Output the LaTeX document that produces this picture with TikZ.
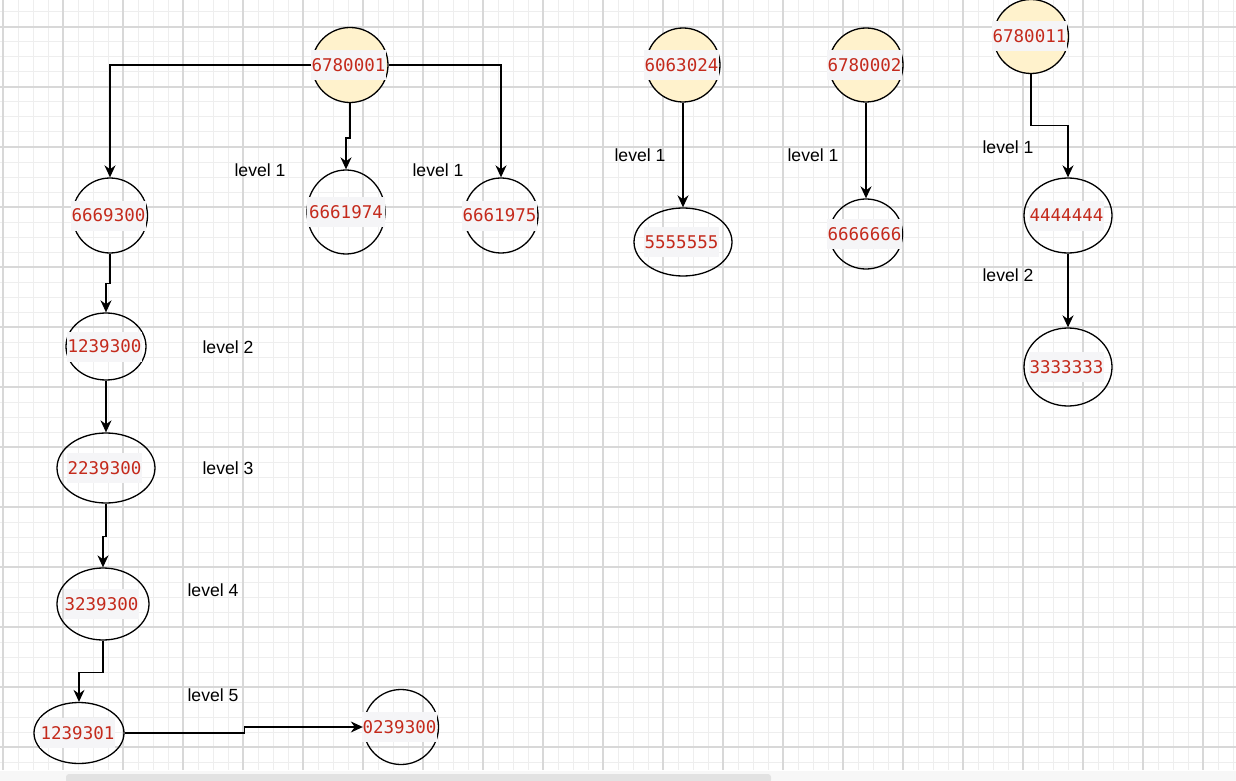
\documentclass[tikz,border=0pt]{standalone}
\usepackage{fontspec}
\setmainfont{Liberation Sans}
\newfontfamily\codefont{DejaVu Sans Mono}
\usetikzlibrary{shapes.geometric,arrows.meta}
\definecolor{codered}{RGB}{196,42,28}
\definecolor{hlgray}{RGB}{245,245,247}
\definecolor{nodeyellow}{RGB}{255,242,204}
\definecolor{gridmajor}{RGB}{216,216,216}
\definecolor{gridminor}{RGB}{238,238,238}
\definecolor{scrollgray}{RGB}{226,226,226}
\tikzset{
 bubble/.style={ellipse, draw=black, line width=1.3pt, inner sep=0pt},
 rootbubble/.style={bubble, fill=nodeyellow},
 codetext/.style={fill=hlgray, text=codered, font=\codefont\fontsize{17.5}{20}\selectfont, inner xsep=0.5pt, inner ysep=0pt, minimum height=30pt, xshift=-1.5pt},
 lvl/.style={font=\fontsize{17.6}{20}\selectfont, inner sep=0pt},
 link/.style={line width=1.4pt, -{Stealth[length=12pt,width=11pt]}},
 minorline/.style={draw=gridminor, line width=1pt},
 majorline/.style={draw=gridmajor, line width=1.4pt},
}
\begin{document}
\begin{tikzpicture}[x=1pt,y=-1pt]
\useasboundingbox (0,0) rectangle (1236,781);
\fill[white] (0,0) rectangle (1236,781);
% grid
\foreach \x in {3,18,...,1236} \draw[minorline] (\x,0) -- (\x,770);
\foreach \y in {12,27,...,770} \draw[minorline] (0,\y) -- (1236,\y);
\foreach \x in {3,63,...,1236} \draw[majorline] (\x,0) -- (\x,770);
\foreach \y in {27,87,...,770} \draw[majorline] (0,\y) -- (1236,\y);
\fill[white!97!black] (0,771) rectangle (1236,781);
\fill[scrollgray, rounded corners=3pt] (66,774) rectangle (771,783);

% root nodes
\node[rootbubble, minimum width=76pt, minimum height=75pt] (a) at (350,65) {};
\node[rootbubble, minimum width=74pt, minimum height=74pt] (j) at (683,65) {};
\node[rootbubble, minimum width=74pt, minimum height=74pt] (l) at (866,65) {};
\node[rootbubble, minimum width=75pt, minimum height=74pt] (n) at (1031,36.5) {};
% child nodes
\node[bubble, minimum width=75pt, minimum height=75pt] (b) at (110,215.5) {};
\node[bubble, minimum width=78pt, minimum height=84pt] (c) at (346,212) {};
\node[bubble, minimum width=74pt, minimum height=75pt] (d) at (501,215.5) {};
\node[bubble, minimum width=98pt, minimum height=68pt] (k) at (683,242) {};
\node[bubble, minimum width=73pt, minimum height=70pt] (m) at (866,234) {};
\node[bubble, minimum width=88pt, minimum height=75pt] (o) at (1068,215.5) {};
\node[bubble, minimum width=88pt, minimum height=78pt] (p) at (1068,367) {};
\node[bubble, minimum width=80pt, minimum height=67pt] (e) at (106,346.5) {};
\node[bubble, minimum width=98pt, minimum height=70pt] (f) at (106,468) {};
\node[bubble, minimum width=92pt, minimum height=72pt] (g) at (103,604) {};
\node[bubble, minimum width=90pt, minimum height=61pt] (h) at (79,733) {};
\node[bubble, minimum width=75pt, minimum height=75pt] (i) at (401,727) {};

% texts
\node[codetext] (ta) at (a.center) {6780001};
\node[codetext] (tj) at (j.center) {6063024};
\node[codetext] (tl) at (l.center) {6780002};
\node[codetext] (tn) at (n.center) {6780011};
\node[codetext] (tb) at (b.center) {6669300};
\node[codetext, xshift=1.5pt, inner xsep=2pt] (tc) at (c.center) {6661974};
\node[codetext] (td) at (d.center) {6661975};
\node[codetext] (tk) at (k.center) {5555555};
\node[codetext] (tm) at (m.center) {6666666};
\node[codetext] (to) at (o.center) {4444444};
\node[codetext] (tp) at (p.center) {3333333};
\node[codetext] (te) at (e.center) {1239300};
\node[codetext] (tf) at (f.center) {2239300};
\node[codetext] (tg) at (g.center) {3239300};
\node[codetext] (th) at (h.center) {1239301};
\node[codetext] (ti) at (i.center) {0239300};

% connectors
\draw[link] (a.west) -| (b.north);
\draw[link] (a.east) -| (d.north);
\draw[link] (a.south) -- ([yshift=-35pt]a.south) -| (c.north);
\draw[link] (j.south) -- (k.north);
\draw[link] (l.south) -- (m.north);
\draw[link] (n.south) -- ([yshift=-51.5pt]n.south) -| (o.north);
\draw[link] (o.south) -- (p.north);
\draw[link] (b.south) -- ([yshift=-30pt]b.south) -| (e.north);
\draw[link] (e.south) -- (f.north);
\draw[link] (f.south) -- ([yshift=-33pt]f.south) -| (g.north);
\draw[link] (g.south) -- ([yshift=-32pt]g.south) -| (h.north);
\draw[link] (h.east) -- ++(120,0) |- (i.west);

% level labels
\node[lvl] (l1a) at (260,170) {level 1};
\node[lvl] (l1b) at (438,170) {level 1};
\node[lvl] (l1c) at (640,155) {level 1};
\node[lvl] (l1d) at (813,155) {level 1};
\node[lvl] (l1e) at (1008,147) {level 1};
\node[lvl] (l2a) at (1008,275) {level 2};
\node[lvl] (l2b) at (228,347) {level 2};
\node[lvl] (l3) at (228,468) {level 3};
\node[lvl] (l4) at (213,590) {level 4};
\node[lvl] (l5) at (213,695) {level 5};
\end{tikzpicture}
\end{document}
